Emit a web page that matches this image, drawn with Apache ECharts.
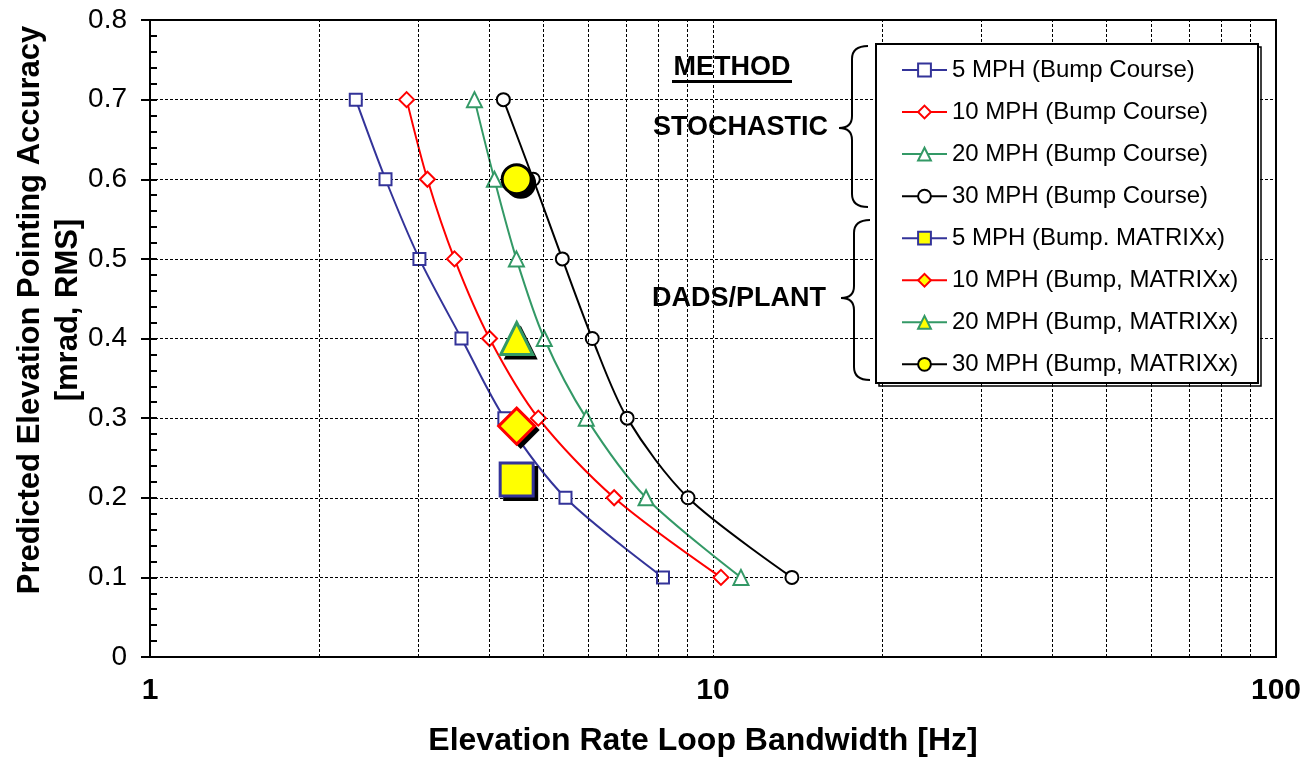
<!DOCTYPE html>
<html><head><meta charset="utf-8">
<script src="https://cdn.jsdelivr.net/npm/echarts@6/dist/echarts.min.js"></script>
<style>html,body{margin:0;padding:0;background:#fff}#c{width:1313px;height:760px}</style>
</head><body><div id="c"></div>
<script>
// Predicted pointing accuracy levels (y) shared by the Bump Course curves
const accuracyLevels = [0.7, 0.6, 0.5, 0.4, 0.3, 0.2, 0.1];
// Elevation rate loop bandwidth [Hz] for each speed (Stochastic method)
const bw5mph  = [2.32, 2.62, 3.01, 3.575, 4.26, 5.47, 8.15];
const bw10mph = [2.856, 3.11, 3.474, 4.01, 4.895, 6.675, 10.33];
const bw20mph = [3.77, 4.09, 4.475, 5.015, 5.955, 7.605, 11.21];
const bw30mph = [4.243, 4.795, 5.40, 6.103, 7.04, 9.03, 13.81];
// DADS/PLANT (MATRIXx) single points: [bandwidth, accuracy]
const matrix5mph  = [4.48, 0.223];
const matrix10mph = [4.48, 0.29];
const matrix20mph = [4.48, 0.40];
const matrix30mph = [4.48, 0.60];
// Log-axis minor gridline positions
const xMinorGrid = [2, 3, 4, 5, 6, 7, 8, 9, 20, 30, 40, 50, 60, 70, 80, 90];
const seriesNames = [
  '5 MPH (Bump Course)', '10 MPH (Bump Course)', '20 MPH (Bump Course)', '30 MPH (Bump Course)',
  '5 MPH (Bump. MATRIXx)', '10 MPH (Bump, MATRIXx)', '20 MPH (Bump, MATRIXx)', '30 MPH (Bump, MATRIXx)'
];

const FONT = "'Liberation Sans', Arial, sans-serif";
const BLUE = '#333399', RED = '#ff0000', GREEN = '#339966', BLACK = '#000000', YELLOW = '#ffff00';

function bump(name, bw, color, symbol, size) {
  return {
    type: 'line', name: name,
    data: bw.map((x, i) => [x, accuracyLevels[i]]),
    smooth: 0.3, symbol: symbol, symbolSize: size, showSymbol: true,
    lineStyle: { color: color, width: 2 },
    itemStyle: { color: '#ffffff', borderColor: color, borderWidth: 2 },
    z: 3
  };
}
function matrix(name, pt, color, symbol, size) {
  return {
    type: 'line', name: name, data: [pt],
    symbol: symbol, symbolSize: size, showSymbol: true,
    lineStyle: { color: color, width: 2 },
    itemStyle: { color: YELLOW, borderColor: color, borderWidth: 3 },
    z: 6
  };
}
function matrixShadow(pt, symbol, size) {
  return {
    type: 'scatter', name: 'shadow', data: [pt], silent: true,
    symbol: symbol, symbolSize: size + 2, symbolOffset: [4, 4],
    itemStyle: { color: '#000', opacity: 1 },
    z: 5
  };
}
function brace(x, yTop, yMid, yBot) {
  const st = { stroke: '#000', lineWidth: 2, fill: 'none' };
  const tipX = x - 13, endX = x + 16, r = 13;
  return [
    { type: 'bezierCurve', z: 11, shape: { x1: endX, y1: yTop, cpx1: x, cpy1: yTop, x2: x, y2: yTop + r }, style: st },
    { type: 'line', z: 11, shape: { x1: x, y1: yTop + r, x2: x, y2: yMid - 12 }, style: st },
    { type: 'bezierCurve', z: 11, shape: { x1: x, y1: yMid - 12, cpx1: x, cpy1: yMid, x2: tipX, y2: yMid }, style: st },
    { type: 'bezierCurve', z: 11, shape: { x1: tipX, y1: yMid, cpx1: x, cpy1: yMid, x2: x, y2: yMid + 12 }, style: st },
    { type: 'line', z: 11, shape: { x1: x, y1: yMid + 12, x2: x, y2: yBot - r }, style: st },
    { type: 'bezierCurve', z: 11, shape: { x1: x, y1: yBot - r, cpx1: x, cpy1: yBot, x2: endX, y2: yBot }, style: st }
  ];
}

const chart = echarts.init(document.getElementById('c'), null, { renderer: 'canvas' });
chart.setOption({
  animation: false,
  backgroundColor: '#ffffff',
  textStyle: { fontFamily: FONT },
  grid: { left: 150, top: 20, width: 1126, height: 637, outerBoundsMode: 'none', containLabel: false,
    show: true, borderColor: '#000', borderWidth: 2, backgroundColor: 'transparent' },
  xAxis: {
    type: 'log', logBase: 10, min: 1, max: 100,
    axisLine: { lineStyle: { color: '#000', width: 2 } },
    axisTick: { show: false },
    axisLabel: { color: '#000', fontSize: 30, fontWeight: 'bold', fontFamily: FONT, margin: 19 },
    splitLine: { show: true, lineStyle: { color: '#000', width: 1, type: [3, 2] } },
    name: 'Elevation Rate Loop Bandwidth [Hz]', nameLocation: 'middle', nameGap: 68, nameMoveOverlap: false,
    nameTextStyle: { color: '#000', fontSize: 32, fontWeight: 'bold', fontFamily: FONT, padding: [0, 20, 0, 0] }
  },
  yAxis: [{
    type: 'value', min: 0, max: 0.8, interval: 0.1, position: 'left',
    axisLine: { show: true, lineStyle: { color: '#000', width: 2 } },
    axisTick: { show: true, inside: false, length: 9, lineStyle: { color: '#000', width: 2 } },
    axisLabel: { color: '#000', fontSize: 28, fontFamily: FONT, margin: 23,
      formatter: v => (v === 0 ? '0' : v.toFixed(1)) },
    splitLine: { show: true, lineStyle: { color: '#000', width: 1, type: [3, 2] } },
    name: 'Predicted Elevation Pointing Accuracy\n[mrad, RMS]', nameLocation: 'middle', nameRotate: 90,
    nameGap: 63, nameMoveOverlap: false,
    nameTextStyle: { color: '#000', fontSize: 31, fontWeight: 'bold', fontFamily: FONT, lineHeight: 38, padding: [0, 0, 0, 57] }
  }, {
    type: 'value', min: 0, max: 0.8, interval: 0.02, position: 'left',
    axisLine: { show: false },
    axisTick: { show: true, inside: true, length: 7, lineStyle: { color: '#000', width: 2 } },
    axisLabel: { show: false }, splitLine: { show: false }
  }],
  legend: {
    data: seriesNames, orient: 'vertical', left: 901, top: 58, padding: 0,
    itemWidth: 45, itemHeight: 16, itemGap: 18.05,
    textStyle: { color: '#000', fontSize: 24, lineHeight: 24, fontFamily: FONT },
    z: 20
  },
  graphic: [
    { type: 'rect', z: 10, shape: { x: 879, y: 47, width: 382, height: 339 }, style: { fill: 'none', stroke: '#000', lineWidth: 1.5 } },
    { type: 'rect', z: 11, shape: { x: 876, y: 44, width: 382, height: 339 }, style: { fill: '#fff', stroke: '#000', lineWidth: 2 } },
    ...brace(852, 46, 128, 207),
    ...brace(854, 220, 298, 380),
    { type: 'text', z: 11, x: 732, y: 68, style: { text: 'METHOD', fill: '#000', font: 'bold 27px ' + FONT, align: 'center', verticalAlign: 'middle' } },
    { type: 'rect', z: 11, shape: { x: 672, y: 80, width: 120, height: 3 }, style: { fill: '#000' } },
    { type: 'text', z: 11, x: 828, y: 128, style: { text: 'STOCHASTIC', fill: '#000', font: 'bold 27px ' + FONT, align: 'right', verticalAlign: 'middle' } },
    { type: 'text', z: 11, x: 826, y: 299, style: { text: 'DADS/PLANT', fill: '#000', font: 'bold 27px ' + FONT, align: 'right', verticalAlign: 'middle' } }
  ],
  series: [
    {
      type: 'line', name: 'grid', data: [], silent: true, z: 1,
      markLine: {
        silent: true, symbol: 'none', label: { show: false },
        lineStyle: { color: '#000', width: 1, type: [3, 2] },
        data: xMinorGrid.map(v => ({ xAxis: v }))
      }
    },
    bump(seriesNames[0], bw5mph, BLUE, 'rect', 12),
    bump(seriesNames[1], bw10mph, RED, 'diamond', 15),
    bump(seriesNames[2], bw20mph, GREEN, 'triangle', 15),
    bump(seriesNames[3], bw30mph, BLACK, 'circle', 13),
    matrixShadow(matrix5mph, 'rect', 33),
    matrixShadow(matrix10mph, 'diamond', 36),
    matrixShadow(matrix20mph, 'triangle', 32),
    matrixShadow(matrix30mph, 'circle', 29),
    matrix(seriesNames[4], matrix5mph, BLUE, 'rect', 33),
    matrix(seriesNames[5], matrix10mph, RED, 'diamond', 36),
    matrix(seriesNames[6], matrix20mph, GREEN, 'triangle', 32),
    matrix(seriesNames[7], matrix30mph, BLACK, 'circle', 29)
  ]
});
</script></body></html>
